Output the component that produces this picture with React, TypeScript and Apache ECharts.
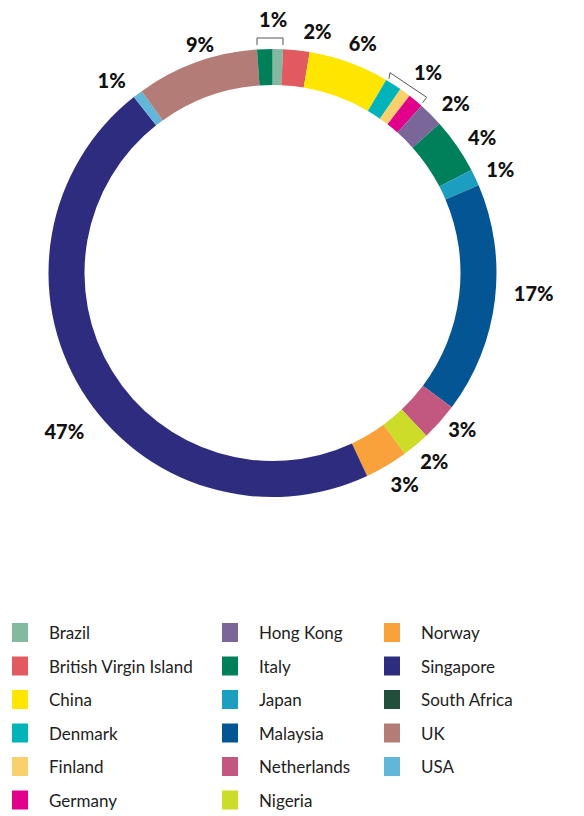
import React, { useEffect, useRef } from "react";
import * as echarts from "echarts";

const countries = [
  "Brazil", "British Virgin Island", "China", "Denmark", "Finland", "Germany",
  "Hong Kong", "Italy", "Japan", "Malaysia", "Netherlands", "Nigeria", "Norway",
  "Singapore", "USA", "UK", "South Africa",
];
const shares = [0.75, 1.9, 5.8, 1.2, 0.8, 1.1, 1.8, 4.0, 1.2, 16.6, 2.7, 2.0, 3.1, 46.2, 0.7, 8.8, 1.1];
const labelTexts = ["1%", "2%", "6%", "", "1%", "", "2%", "4%", "1%", "17%", "3%", "2%", "3%", "47%", "1%", "9%", ""];
const sliceColors = [
  "#82b9a0", "#e15a5f", "#ffe600", "#00b4b9", "#f8d06c", "#e2008a",
  "#7b6699", "#00805a", "#1b9ebf", "#045594", "#c2577f", "#cddc29", "#f9a23b",
  "#2e2c7e", "#62b6da", "#b47c76", "#00805a",
];
const legendCol1 = ["Brazil", "British Virgin Island", "China", "Denmark", "Finland", "Germany"];
const legendCol2 = ["Hong Kong", "Italy", "Japan", "Malaysia", "Netherlands", "Nigeria"];
const legendCol3 = ["Norway", "Singapore", "South Africa", "UK", "USA"];
const legendOnlyColors: Record<string, string> = { "South Africa": "#214f3c" };

const labelOffsets: Record<string, [number, number]> = {
  Brazil: [-19, -20],
  "British Virgin Island": [6, -9],
  China: [-4, -10],
  Finland: [3, -12],
  "Hong Kong": [4, -4],
  Italy: [3, -3],
  Japan: [2, -4],
  Malaysia: [9, -8],
  Netherlands: [1, 0],
  Nigeria: [-2, 8],
  Norway: [-1, 10],
  Singapore: [11, 35],
  USA: [-6, -6],
  UK: [21, -9],
};

export default function App() {
  const ref = useRef<HTMLDivElement>(null);
  useEffect(() => {
    if (!ref.current) return;
    const chart = echarts.init(ref.current, undefined, { renderer: "svg" });
    const mkLegend = (names: string[], left: number) => ({
      orient: "vertical",
      left,
      top: 623,
      height: 190,
      padding: 0,
      icon: "rect",
      itemWidth: 16,
      itemHeight: 19,
      itemGap: 14.5,
      selectedMode: false,
      textStyle: {
        fontFamily: "Lato",
        fontSize: 17,
        color: "#222",
        lineHeight: 16,
        padding: [3, 0, 0, 16],
      },
      data: names.map((n) =>
        legendOnlyColors[n] ? { name: n, itemStyle: { color: legendOnlyColors[n] } } : { name: n }
      ),
    });
    chart.setOption({
      animation: false,
      legend: [mkLegend(legendCol1, 12), mkLegend(legendCol2, 222), mkLegend(legendCol3, 384)],
      series: [
        {
          type: "pie",
          center: [272.5, 273],
          radius: [188, 224],
          startAngle: 90,
          clockwise: true,
          avoidLabelOverlap: false,
          minShowLabelAngle: 0,
          labelLayout: { hideOverlap: false },
          label: {
            show: true,
            position: "outside",
            fontFamily: "Lato",
            fontWeight: 900,
            fontSize: 20,
            color: "#111",
            distanceToLabelLine: 0,
          },
          labelLine: { show: false, length: 10, length2: 0 },
          emphasis: { disabled: true },
          data: countries.map((c, i) => ({
            name: c,
            value: shares[i],
            itemStyle: { color: sliceColors[i] },
            label: {
              show: labelTexts[i] !== "",
              formatter: labelTexts[i],
              offset: labelOffsets[c] || [0, 0],
            },
          })),
        },
      ],
      graphic: [
        {
          type: "polyline",
          shape: { points: [[257, 45], [257, 38], [283, 38], [283, 45]] },
          style: { stroke: "#555", lineWidth: 1, fill: null },
        },
        {
          type: "polyline",
          shape: { points: [[389, 78.7], [390, 72.7], [426.7, 97.3], [422.7, 102.7]] },
          style: { stroke: "#555", lineWidth: 1, fill: null },
        },
      ],
    });
    return () => chart.dispose();
  }, []);
  return (
    <div
      ref={ref}
      style={{ position: "absolute", left: 0, top: 0, width: 584, height: 816 }}
    />
  );
}
